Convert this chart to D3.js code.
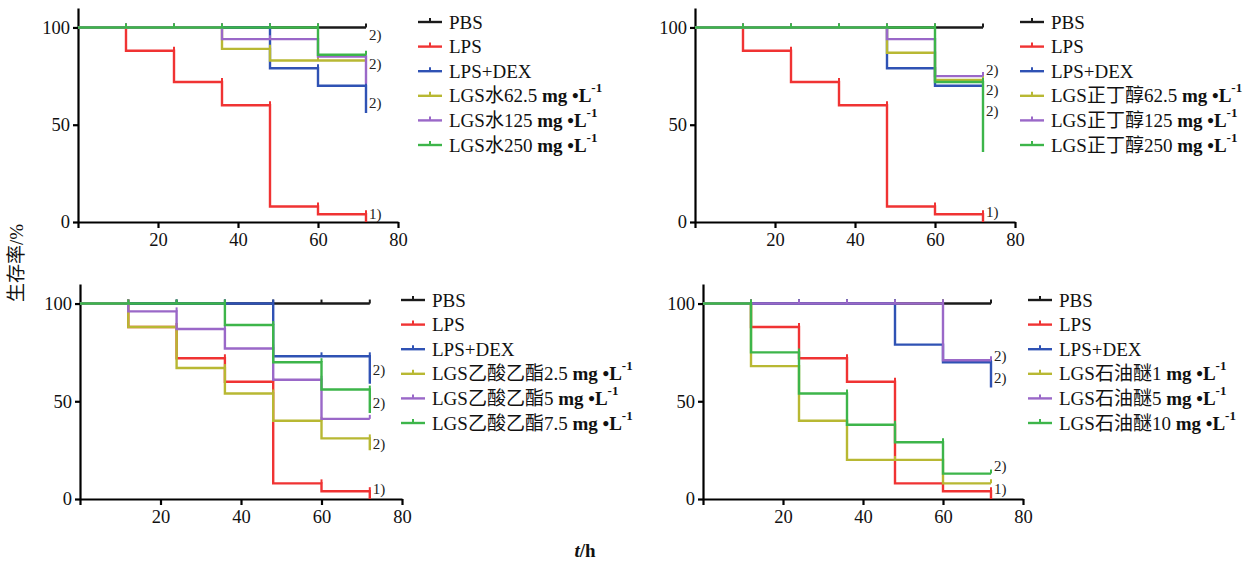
<!DOCTYPE html>
<html>
<head>
<meta charset="utf-8">
<script src="https://cdn.jsdelivr.net/npm/d3@7"></script>
<style>
  body { margin: 0; background: #fff; }
  svg { display: block; }
</style>
</head>
<body>
<svg id="canvas" width="1251" height="563"></svg>
<script>
'use strict';

// time points (h) shared by all curves
var times = [0, 12, 24, 36, 48, 60, 72];
var xTicks = [0, 20, 40, 60, 80];
var yTicks = [0, 50, 100];

var baseGroups = ['PBS', 'LPS', 'LPS+DEX'];
var waterDoses = ['LGS水62.5', 'LGS水125', 'LGS水250'];
var butanolDoses = ['LGS正丁醇62.5', 'LGS正丁醇125', 'LGS正丁醇250'];
var acetateDoses = ['LGS乙酸乙酯2.5', 'LGS乙酸乙酯5', 'LGS乙酸乙酯7.5'];
var etherDoses = ['LGS石油醚1', 'LGS石油醚5', 'LGS石油醚10'];

// survival (%) from each time point onwards, last value = end of curve
var waterSurvival = [
  [100, 100, 100, 100, 100, 100, 100],
  [100, 88, 72, 60, 8, 4, 0],
  [100, 100, 100, 100, 79, 70, 56],
  [100, 100, 100, 89, 83, 83, 83],
  [100, 100, 100, 94, 94, 85, 71],
  [100, 100, 100, 100, 100, 86, 86],
];
var butanolSurvival = [
  [100, 100, 100, 100, 100, 100, 100],
  [100, 88, 72, 60, 8, 4, 0],
  [100, 100, 100, 100, 79, 70, 70],
  [100, 100, 100, 100, 87, 73, 73],
  [100, 100, 100, 100, 94, 75, 75],
  [100, 100, 100, 100, 100, 72, 36],
];
var acetateSurvival = [
  [100, 100, 100, 100, 100, 100, 100],
  [100, 88, 72, 60, 8, 4, 0],
  [100, 100, 100, 100, 73, 73, 59],
  [100, 88, 67, 54, 40, 31, 25],
  [100, 96, 87, 77, 61, 41, 41],
  [100, 100, 100, 89, 70, 56, 44],
];
var etherSurvival = [
  [100, 100, 100, 100, 100, 100, 100],
  [100, 88, 72, 60, 8, 4, 0],
  [100, 100, 100, 100, 79, 70, 57],
  [100, 68, 40, 20, 20, 8, 8],
  [100, 100, 100, 100, 100, 71, 71],
  [100, 75, 54, 38, 29, 13, 13],
];

// significance marks at the end of the curves: [label, survival level]
var waterMarks = [['2)', 96], ['2)', 81], ['2)', 61], ['1)', 4]];
var butanolMarks = [['2)', 78], ['2)', 68], ['2)', 57], ['1)', 5]];
var acetateMarks = [['2)', 66], ['2)', 49], ['2)', 28], ['1)', 5]];
var etherMarks = [['2)', 73], ['2)', 62], ['2)', 17], ['1)', 5]];

var COLORS = ['#1a1a1a', '#f03333', '#2f52b4', '#b8b833', '#9a68c8', '#3db54a'];
var FONT = '"Liberation Serif", "Noto Sans CJK SC", serif';

function DrawPanel(svg, p) {
  var x = d3.scaleLinear().domain([0, 80]).range([p.left, p.right]);
  var y = d3.scaleLinear().domain([0, 110]).range([p.bottom, p.top]);
  var g = svg.append('g');

  var xAxis = g.append('g')
      .attr('transform', 'translate(0,' + p.bottom + ')')
      .call(d3.axisBottom(x).tickValues(xTicks).tickSize(6).tickSizeOuter(0)
        .tickPadding(5)
        .tickFormat(function(d) { return d === 0 ? '' : d; }));
  var yAxis = g.append('g')
      .attr('transform', 'translate(' + p.left + ',0)')
      .call(d3.axisLeft(y).tickValues(yTicks).tickSize(5).tickSizeOuter(0)
        .tickPadding(3));
  [xAxis, yAxis].forEach(function(a) {
    a.selectAll('path, line').attr('stroke', '#000').attr('stroke-width', 2.2);
    a.selectAll('text').attr('font-family', FONT).attr('font-size', 18.5)
      .attr('fill', '#111');
  });

  var line = d3.line()
      .x(function(d) { return x(d[0]); })
      .y(function(d) { return y(d[1]); })
      .curve(d3.curveStepAfter);

  p.series.forEach(function(values, i) {
    var pts = values.map(function(v, k) { return [times[k], v]; });
    g.append('path')
      .attr('d', line(pts))
      .attr('fill', 'none')
      .attr('stroke', COLORS[i])
      .attr('stroke-width', 2.4);
    // censor ticks
    for (var k = 1; k < values.length; k++) {
      g.append('line')
        .attr('x1', x(times[k])).attr('x2', x(times[k]))
        .attr('y1', y(values[k - 1])).attr('y2', y(values[k - 1]) - 4)
        .attr('stroke', COLORS[i])
        .attr('stroke-width', 2);
    }
  });

  p.marks.forEach(function(m) {
    g.append('text')
      .attr('x', x(72) + 3)
      .attr('y', y(m[1]) + 5)
      .attr('font-family', FONT)
      .attr('font-size', 15)
      .attr('fill', '#222')
      .text(m[0]);
  });

  var names = baseGroups.concat(p.doses);
  names.forEach(function(name, i) {
    var cy = p.legendTop + i * 24.6;
    var lg = g.append('g');
    lg.append('line')
      .attr('x1', p.legendX).attr('x2', p.legendX + 24)
      .attr('y1', cy).attr('y2', cy)
      .attr('stroke', COLORS[i]).attr('stroke-width', 2.4);
    lg.append('line')
      .attr('x1', p.legendX + 12).attr('x2', p.legendX + 12)
      .attr('y1', cy).attr('y2', cy - 4)
      .attr('stroke', COLORS[i]).attr('stroke-width', 2);
    var t = lg.append('text')
      .attr('x', p.legendX + 31)
      .attr('y', cy + 6.5)
      .attr('font-family', FONT)
      .attr('font-size', 19)
      .attr('fill', '#111');
    t.append('tspan').text(name);
    if (i >= 3) {
      t.append('tspan').attr('font-weight', 'bold').text(' mg \u2022L');
      t.append('tspan').attr('font-size', 13).attr('font-weight', 'bold')
        .attr('dy', -10).text('-1');
    }
  });
}

function Main() {
  var svg = d3.select('#canvas');
  var panels = [
    {left: 78, right: 398, top: 8, bottom: 222, legendX: 418, legendTop: 22,
      series: waterSurvival, doses: waterDoses, marks: waterMarks},
    {left: 695, right: 1015, top: 8, bottom: 222, legendX: 1020, legendTop: 22,
      series: butanolSurvival, doses: butanolDoses, marks: butanolMarks},
    {left: 80, right: 402, top: 284, bottom: 499, legendX: 401, legendTop: 300,
      series: acetateSurvival, doses: acetateDoses, marks: acetateMarks},
    {left: 703, right: 1023, top: 284, bottom: 499, legendX: 1028, legendTop: 300,
      series: etherSurvival, doses: etherDoses, marks: etherMarks},
  ];
  panels.forEach(function(p) { DrawPanel(svg, p); });

  svg.append('text')
    .attr('transform', 'translate(23,263) rotate(-90)')
    .attr('text-anchor', 'middle')
    .attr('font-family', FONT)
    .attr('font-size', 19)
    .attr('fill', '#111')
    .text('生存率/%');

  var xl = svg.append('text')
    .attr('x', 585).attr('y', 557)
    .attr('text-anchor', 'middle')
    .attr('font-family', FONT)
    .attr('font-size', 19)
    .attr('font-weight', 'bold')
    .attr('fill', '#111');
  xl.append('tspan').attr('font-style', 'italic').text('t');
  xl.append('tspan').text('/h');
}

Main();
</script>
</body>
</html>
